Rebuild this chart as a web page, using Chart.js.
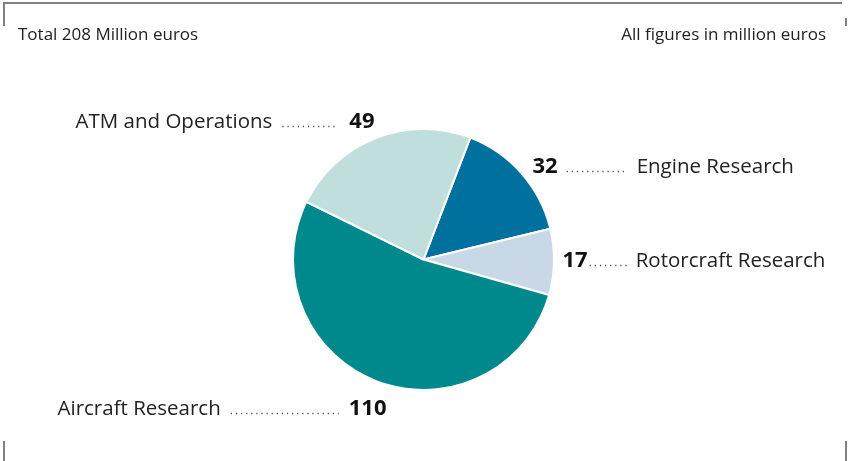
<!DOCTYPE html>
<html>
<head>
<meta charset="utf-8">
<script src="https://cdn.jsdelivr.net/npm/chart.js@4"></script>
<style>
  html, body { margin: 0; padding: 0; background: #fff; }
  #wrap { position: relative; width: 848px; height: 461px; }
</style>
</head>
<body>
<div id="wrap"><canvas id="pie" width="848" height="461"></canvas></div>
<script>
const categories = ['Engine Research', 'Rotorcraft Research', 'Aircraft Research', 'ATM and Operations']
const values = [32, 17, 110, 49]
const sliceColors = ['#00709f', '#c9d8e6', '#00898d', '#bfdedc']
const totalText = 'Total 208 Million euros'
const unitText = 'All figures in million euros'

// label placement relative to pie centre: number edge dx, baseline dy, gaps and leader length
const labelLayout = [
    { side: 'right', dx: 109, dy: -87, gapNum: 9, dots: 61, gapName: 9 },
    { side: 'right', dx: 139, dy: 7, gapNum: 2, dots: 40, gapName: 6 },
    { side: 'left', dx: -37, dy: 155, gapNum: 10, dots: 108, gapName: 10 },
    { side: 'left', dx: -49, dy: -132, gapNum: 11, dots: 56, gapName: 10 }
]

const FONT = '"Open Sans", "Noto Sans", sans-serif'

const framePlugin = {
    id: 'frame',
    afterDraw(chart) {
        const ctx = chart.ctx
        const h = chart.height
        ctx.save()
        ctx.strokeStyle = '#808080'
        ctx.lineWidth = 2
        ctx.beginPath()
        ctx.moveTo(4, 26); ctx.lineTo(4, 3); ctx.lineTo(842, 3)
        ctx.moveTo(846, 18); ctx.lineTo(846, 26)
        ctx.moveTo(4, 441); ctx.lineTo(4, h)
        ctx.moveTo(846, 441); ctx.lineTo(846, h)
        ctx.stroke()

        ctx.fillStyle = '#222'
        ctx.font = '17px ' + FONT
        ctx.textBaseline = 'alphabetic'
        ctx.textAlign = 'left'
        ctx.fillText(totalText, 18, 40)
        ctx.textAlign = 'right'
        ctx.fillText(unitText, 826, 40)
        ctx.restore()
    }
}

const leaderPlugin = {
    id: 'leaders',
    afterDatasetsDraw(chart) {
        const ctx = chart.ctx
        const arc = chart.getDatasetMeta(0).data[0]
        const cx = arc.x, cy = arc.y
        const data = chart.data.datasets[0].data
        ctx.save()
        ctx.textBaseline = 'alphabetic'
        chart.data.labels.forEach((name, i) => {
            const lay = labelLayout[i]
            const y = cy + lay.dy
            const num = String(data[i])
            ctx.font = 'bold 22px ' + FONT
            const numW = ctx.measureText(num).width
            const numX = cx + lay.dx
            let dotStart, dotEnd, nameX
            ctx.fillStyle = '#111'
            if (lay.side === 'right') {
                ctx.textAlign = 'left'
                ctx.fillText(num, numX, y)
                dotStart = numX + numW + lay.gapNum
                dotEnd = dotStart + lay.dots
                nameX = dotEnd + lay.gapName
                ctx.font = '20.5px ' + FONT
                ctx.fillStyle = '#222'
                ctx.fillText(name, nameX, y)
            } else {
                ctx.textAlign = 'right'
                ctx.fillText(num, numX, y)
                dotEnd = numX - numW - lay.gapNum
                dotStart = dotEnd - lay.dots
                nameX = dotStart - lay.gapName
                ctx.font = '20.5px ' + FONT
                ctx.fillStyle = '#222'
                ctx.fillText(name, nameX, y)
            }
            ctx.strokeStyle = '#555'
            ctx.lineWidth = 1.3
            ctx.setLineDash([1.3, 3.8])
            ctx.beginPath()
            ctx.moveTo(dotStart, y - 1)
            ctx.lineTo(dotEnd, y - 1)
            ctx.stroke()
            ctx.setLineDash([])
        })
        ctx.restore()
    }
}

new Chart(document.getElementById('pie').getContext('2d'), {
    type: 'pie',
    data: {
        labels: categories,
        datasets: [{
            data: values,
            backgroundColor: sliceColors,
            borderColor: '#ffffff',
            borderWidth: 2
        }]
    },
    options: {
        responsive: false,
        animation: false,
        rotation: 21,
        layout: { padding: { top: 128, bottom: 70, left: 0, right: 1 } },
        plugins: {
            legend: { display: false },
            tooltip: { enabled: false }
        }
    },
    plugins: [framePlugin, leaderPlugin]
})
</script>
</body>
</html>
